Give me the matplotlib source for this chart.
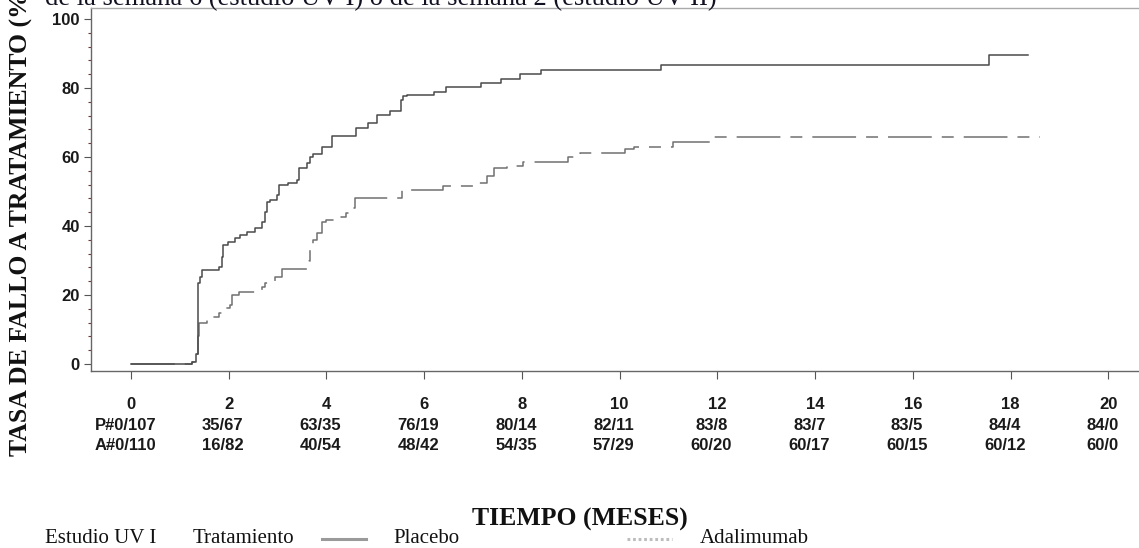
import matplotlib
matplotlib.use("Agg")
import matplotlib.pyplot as plt
from matplotlib.ticker import MultipleLocator

# ---- data ----
placebo_t = [0, 1.24, 1.33, 1.36, 1.38, 1.42, 1.46, 1.79, 1.86, 1.89, 1.99, 2.13, 2.23, 2.37,
             2.54, 2.67, 2.74, 2.78, 2.85, 2.98, 3.02, 3.22, 3.40, 3.44, 3.60, 3.66, 3.73,
             3.90, 4.11, 4.61, 4.84, 5.03, 5.30, 5.52, 5.56, 5.64, 6.20, 6.45, 7.16, 7.57,
             7.96, 8.39, 10.85, 17.57, 18.36]
placebo_y = [0, 0.6, 3.0, 17.6, 23.4, 25.3, 27.2, 28.2, 31.0, 34.5, 35.4, 36.4, 37.4, 38.3,
             39.3, 41.2, 44.1, 47.0, 47.5, 49.0, 51.9, 52.4, 53.3, 56.7, 58.2, 60.1, 60.8,
             62.8, 66.1, 68.5, 69.9, 72.2, 73.3, 76.5, 77.7, 78.0, 78.9, 80.2, 81.4, 82.6,
             84.0, 85.2, 86.7, 89.6, 89.6]

adalimumab_t = [0, 1.24, 1.33, 1.36, 1.40, 1.55, 1.79, 1.89, 2.03, 2.07, 2.20, 2.68, 2.74,
                2.95, 3.08, 3.64, 3.66, 3.73, 3.80, 3.90, 4.00, 4.30, 4.40, 4.52, 4.59, 5.54,
                6.39, 7.12, 7.28, 7.43, 7.70, 8.03, 8.95, 9.19, 10.11, 10.30, 11.10, 11.94, 18.61]
adalimumab_y = [0, 0.6, 3.0, 8.0, 11.8, 13.7, 14.7, 16.1, 17.1, 20.0, 21.0, 22.4, 23.4,
                25.3, 27.4, 30.0, 34.5, 35.9, 38.1, 41.2, 41.7, 42.7, 43.7, 45.1, 48.0, 50.3,
                51.6, 52.4, 54.5, 56.7, 57.4, 58.7, 60.1, 61.2, 62.3, 62.8, 64.4, 65.9, 65.9]

x_ticks = [0, 2, 4, 6, 8, 10, 12, 14, 16, 18, 20]
y_ticks = [0, 20, 40, 60, 80, 100]
placebo_risk = ["P#0/107", "35/67", "63/35", "76/19", "80/14", "82/11", "83/8", "83/7", "83/5", "84/4", "84/0"]
adalimumab_risk = ["A#0/110", "16/82", "40/54", "48/42", "54/35", "57/29", "60/20", "60/17", "60/15", "60/12", "60/0"]

# ---- figure ----
plt.rcParams['lines.scale_dashes'] = False
W, H = 1139, 548
fig = plt.figure(figsize=(W / 100, H / 100), dpi=100)
ax = fig.add_axes([91 / W, (H - 371) / H, 1 - 91 / W, (371 - 8) / H])

sans = ['Liberation Sans', 'DejaVu Sans']
serif = ['Liberation Serif', 'DejaVu Serif']

ax.step(adalimumab_t, adalimumab_y, where='post', color='#707070', lw=1.1,
        dashes=(31.5, 7.2, 8.6, 7.2))
ax.step(placebo_t, placebo_y, where='post', color='#4a4a4a', lw=1.1)

ax.set_xlim(-0.82, 20.63)
ax.set_ylim(-2.03, 103.2)

ax.set_xticks(x_ticks)
ax.set_xticklabels([str(t) for t in x_ticks])
ax.set_yticks(y_ticks)
ax.yaxis.set_minor_locator(MultipleLocator(4))
ax.tick_params(axis='x', direction='out', length=6, width=0.8, color='#555555', pad=13)
ax.tick_params(axis='y', which='major', direction='out', length=5, width=0.8, color='#555555', pad=3)
ax.tick_params(axis='y', which='minor', direction='out', length=2, width=0.8, color='#6b3a3a')
for lab in ax.get_xticklabels() + ax.get_yticklabels():
    lab.set_fontfamily(sans)
    lab.set_fontweight('bold')
    lab.set_fontsize(12)
    lab.set_color('#1a1a1a')

for s in ['left', 'bottom']:
    ax.spines[s].set_color('#666666')
    ax.spines[s].set_linewidth(1.0)
ax.spines['top'].set_color('#aaaaaa')
ax.spines['top'].set_linewidth(1.0)
ax.spines['right'].set_visible(False)

trans = ax.get_xaxis_transform()
axh = 371 - 8
for i, t in enumerate(x_ticks):
    off = -0.12
    ax.text(t + off, -(425 - 371) / axh, placebo_risk[i], transform=trans, ha='center', va='center',
            fontsize=12, fontweight='bold', family=sans, color='#1a1a1a')
    ax.text(t + off, -(445 - 371) / axh, adalimumab_risk[i], transform=trans, ha='center', va='center',
            fontsize=12, fontweight='bold', family=sans, color='#1a1a1a')

# y label (partly cut off at top, as in the source)
fig.text(21 / W, (H - 456) / H, "TASA DE FALLO A TRATAMIENTO (%)", rotation=90, ha='center', va='bottom',
         fontsize=18.5, fontweight='bold', family=serif, color='#111111')

# title (cut off at top, as in the source)
fig.text(45 / W, 1 - 5 / H, "de la semana 6 (estudio UV I) o de la semana 2 (estudio UV II)",
         ha='left', va='baseline', fontsize=19.2, family=serif, color='#111122')

# x label
fig.text(580 / W, (H - 526) / H, "TIEMPO (MESES)", ha='center', va='baseline',
         fontsize=18.5, fontweight='bold', family=serif, color='#111111')

# bottom legend
ly = (H - 543) / H
fs = 15
fig.text(45 / W, ly, "Estudio UV I", ha='left', va='baseline', fontsize=fs, family=serif, color='#111111')
fig.text(193 / W, ly, "Tratamiento", ha='left', va='baseline', fontsize=fs, family=serif, color='#111111')
fig.text(393 / W, ly, "Placebo", ha='left', va='baseline', fontsize=fs, family=serif, color='#111111')
fig.text(700 / W, ly, "Adalimumab", ha='left', va='baseline', fontsize=fs, family=serif, color='#111111')
lyy = (H - 539) / H
fig.add_artist(plt.Line2D([322 / W, 366 / W], [lyy, lyy], transform=fig.transFigure,
                          color='#9a9a9a', lw=2.2))
fig.add_artist(plt.Line2D([627 / W, 672 / W], [lyy, lyy], transform=fig.transFigure,
                          color='#bdbdbd', lw=2.2, dashes=(2.0, 2.0)))

fig.savefig("out.png", dpi=100)
